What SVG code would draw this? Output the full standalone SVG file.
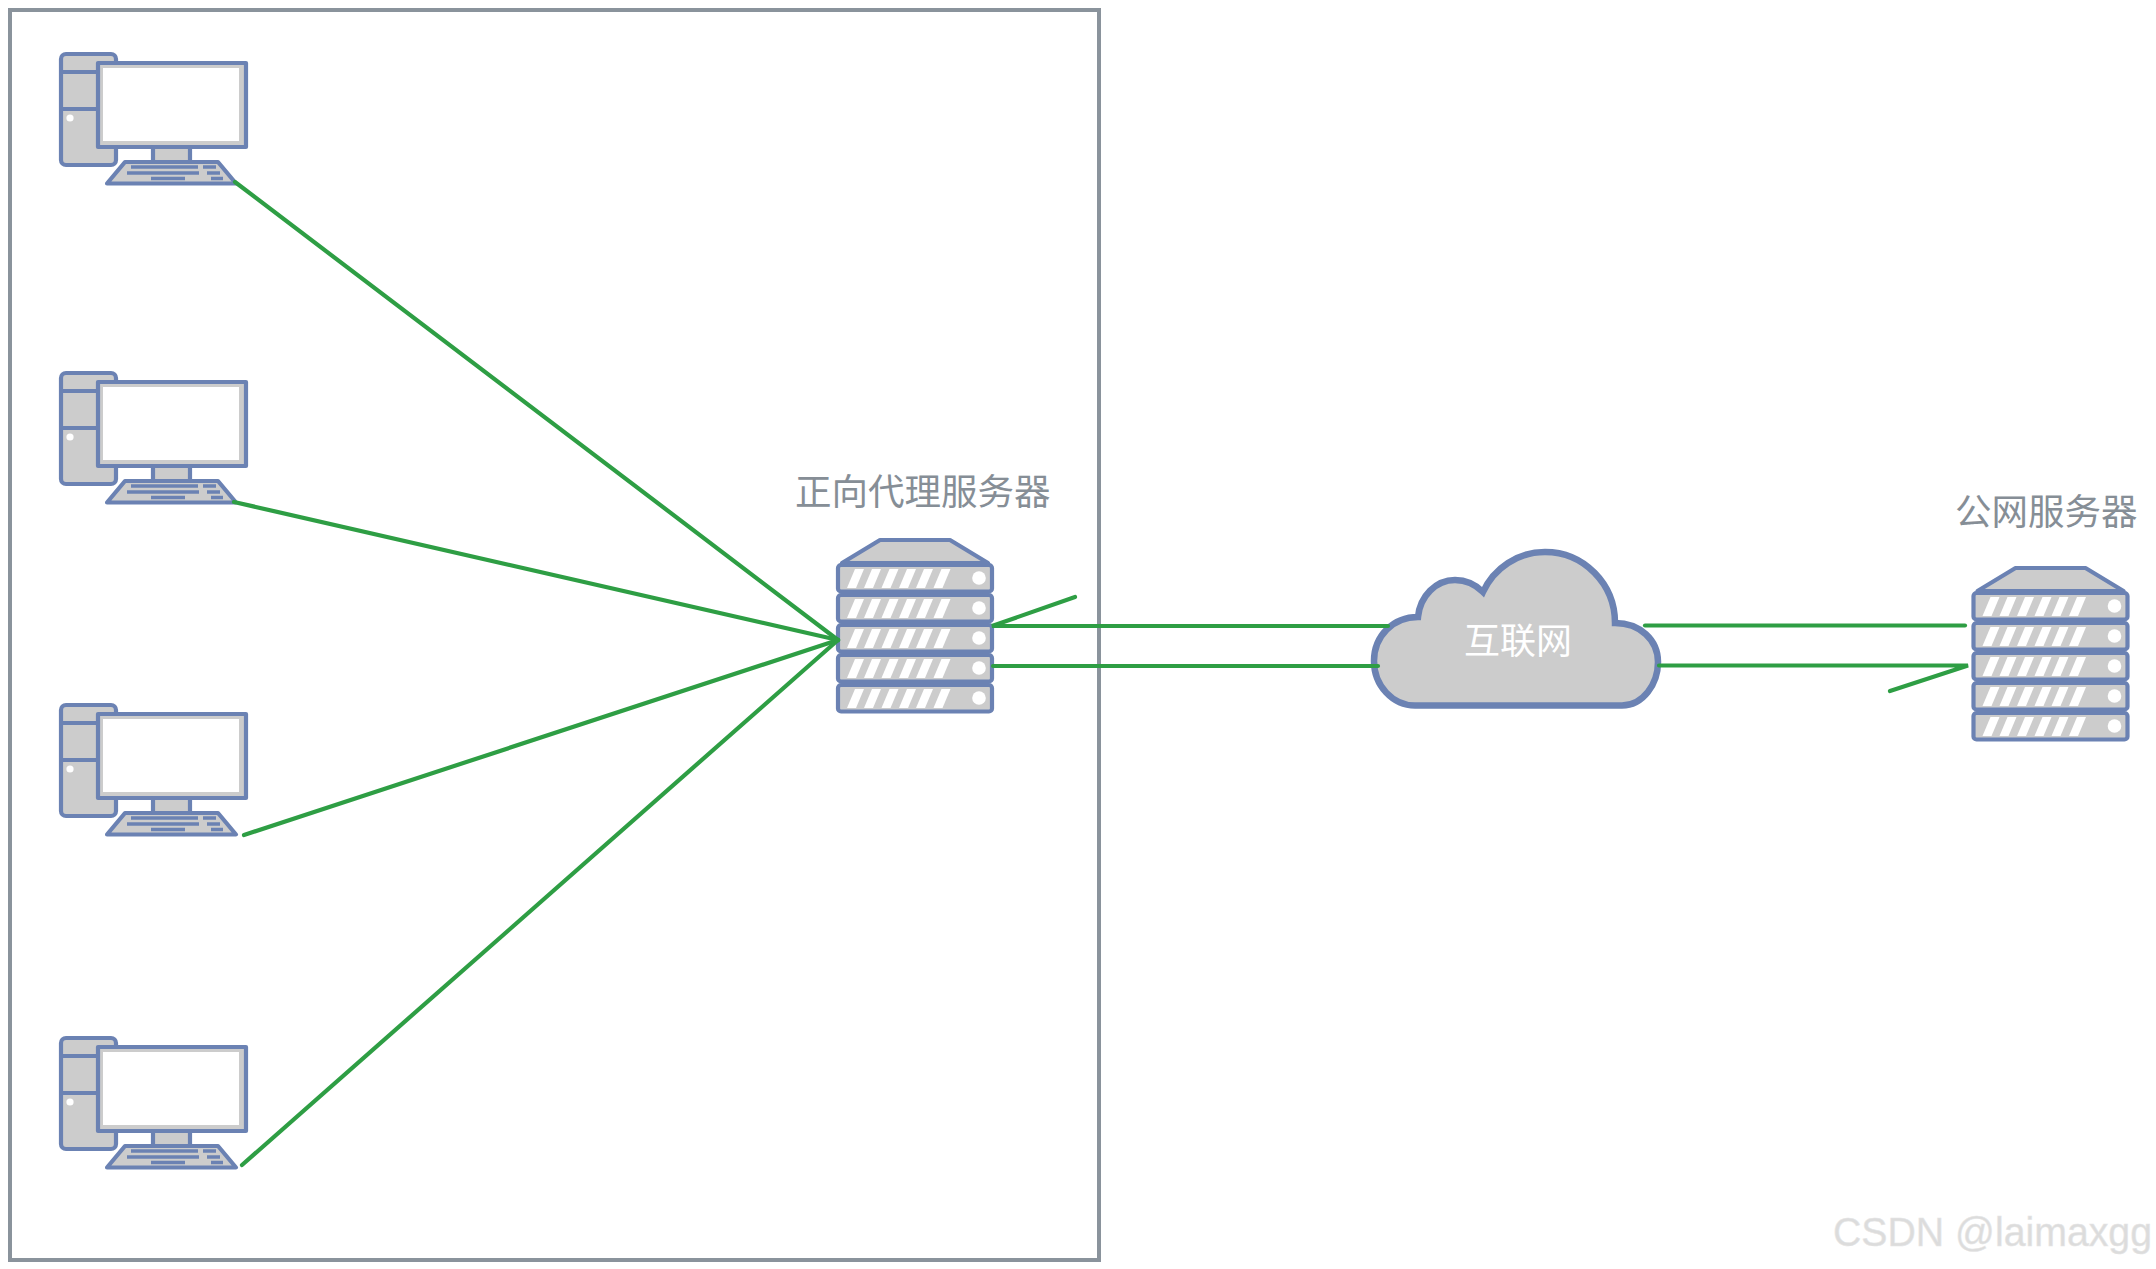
<svg xmlns="http://www.w3.org/2000/svg" xmlns:xlink="http://www.w3.org/1999/xlink" width="2156" height="1269" viewBox="0 0 2156 1269">
<style>
.s{stroke:#6b82b3;stroke-width:4.2;stroke-linejoin:round}
.f{fill:#cccccc}
.w{fill:#ffffff}
.k{stroke:#6b82b3;stroke-width:3.5;fill:none}
.c{fill:none;stroke:#2e9e44;stroke-width:4.2;stroke-linecap:round;stroke-linejoin:miter}
.t{font-family:"Noto Sans CJK SC","Liberation Sans",sans-serif;font-size:36.500px;fill:#868e96}
</style>
<defs>
<g id="pc">
<rect class="s f" x="61" y="54" width="55" height="111" rx="5"/>
<path class="s" d="M61 72H100M61 109H100" fill="none"/>
<circle class="w" cx="70" cy="118" r="3.6"/>
<rect class="s f" x="98" y="63" width="148" height="84"/>
<rect class="w" x="103" y="68" width="136" height="73"/>
<rect class="s f" x="153" y="147" width="37" height="15"/>
<path class="s f" d="M107 183.500L125 162H218L236 183.500Z"/>
<path class="k" d="M131 167H198M203 167H216M127 173H199M207 173H220M151 178.500H185M211 178.500H223"/>
</g>
<g id="unit-slashes" class="w">
<path d="M847 24L856 24L864 5L855 5Z"/><path d="M864 24L873 24L881 5L872 5Z"/><path d="M881.500 24L890.500 24L898.500 5L889.500 5Z"/><path d="M899 24L908 24L916 5L907 5Z"/><path d="M916 24L925 24L933 5L924 5Z"/><path d="M933.500 24L942.500 24L950.500 5L941.500 5Z"/>
<circle cx="979" cy="14" r="6.800"/>
</g>
<g id="srv">
<path class="s f" d="M842 563L880 540H950L988 563Z"/>
<g><rect class="s f" x="838" y="565" width="154" height="26.500" rx="3"/><use href="#unit-slashes" xlink:href="#unit-slashes" y="564"/></g>
<g><rect class="s f" x="838" y="595" width="154" height="26.500" rx="3"/><use href="#unit-slashes" xlink:href="#unit-slashes" y="594"/></g>
<g><rect class="s f" x="838" y="625" width="154" height="26.500" rx="3"/><use href="#unit-slashes" xlink:href="#unit-slashes" y="624"/></g>
<g><rect class="s f" x="838" y="655" width="154" height="26.500" rx="3"/><use href="#unit-slashes" xlink:href="#unit-slashes" y="654"/></g>
<g><rect class="s f" x="838" y="685" width="154" height="26.500" rx="3"/><use href="#unit-slashes" xlink:href="#unit-slashes" y="684"/></g>
</g>
</defs>
<rect width="2156" height="1269" fill="#ffffff"/>
<g id="boundary"><rect x="10" y="10" width="1089" height="1250" fill="none" stroke="#8a939c" stroke-width="4"/></g>
<g id="pc-1"><use href="#pc" xlink:href="#pc"/></g>
<g id="pc-2"><use href="#pc" xlink:href="#pc" y="319"/></g>
<g id="pc-3"><use href="#pc" xlink:href="#pc" y="651"/></g>
<g id="pc-4"><use href="#pc" xlink:href="#pc" y="984"/></g>
<g id="proxy-server"><use href="#srv" xlink:href="#srv"/><text class="t" x="795" y="505">正向代理服务器</text></g>
<g id="public-server"><use href="#srv" xlink:href="#srv" x="1135.500" y="28"/><text class="t" x="1955" y="525">公网服务器</text></g>
<g id="internet">
<path d="M1415 705.500H1622C1643 705.500 1658 684 1658 662C1658 640 1640 623 1615 623C1615 584 1584 552 1545 552C1518 552 1494 568 1483 592C1475 584 1466 580 1455 580C1436 580 1420 596 1418 617C1393 617 1374 636 1374 661C1374 686 1393 705.500 1415 705.500Z" fill="#cccccc" stroke="#6b82b3" stroke-width="6.500"/>
<text x="1464" y="654" style="font-family:'Noto Sans CJK SC','Liberation Sans',sans-serif;font-size:36px;fill:#ffffff">互联网</text>
</g>
<g id="connectors">
<path class="c" d="M235 182L838 640"/>
<path class="c" d="M234 502L838 640"/>
<path class="c" d="M244 835L838 640"/>
<path class="c" d="M242 1165L838 640"/>
<path class="c" d="M1075 597L992 626H1388"/>
<path class="c" d="M993 666H1378"/>
<path class="c" d="M1645 625.500H1965"/>
<path class="c" d="M1659 665.500H1968L1890 691"/>
</g>
<text x="1833" y="1246" style="font-family:'Liberation Sans',sans-serif;font-size:40px;fill:#dcdcdc;stroke:#e6e6e6;stroke-width:.5" textLength="319" lengthAdjust="spacingAndGlyphs">CSDN @laimaxgg</text>
</svg>
